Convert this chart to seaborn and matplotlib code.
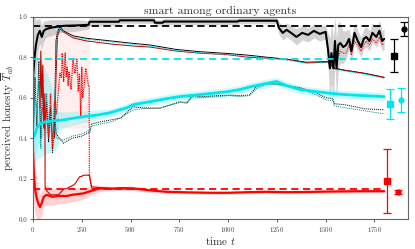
import numpy as np
import pandas as pd
import matplotlib
matplotlib.use("Agg")
import matplotlib.pyplot as plt
import seaborn as sns

# ---------------- data ----------------
# smart agent (black thick)
black_t = [0, 8, 15, 25, 35, 45, 55, 70, 90, 120, 160, 200, 250, 285, 290, 440, 445, 620, 625,
           665, 670, 1050, 1055, 1250, 1260, 1280, 1300, 1330, 1350, 1380, 1410, 1440, 1470, 1500,
           1512, 1522, 1530, 1540, 1548, 1556, 1565, 1575, 1590, 1605, 1620, 1632, 1648, 1665,
           1682, 1695, 1708, 1725, 1740, 1760, 1776, 1790, 1800]
black_v = [0.70, 0.80, 0.86, 0.91, 0.93, 0.90, 0.93, 0.94, 0.945, 0.95, 0.955, 0.956, 0.958, 0.96,
           0.975, 0.975, 0.982, 0.982, 0.97, 0.97, 0.976, 0.976, 0.98, 0.98, 0.945, 0.92, 0.935,
           0.915, 0.90, 0.92, 0.91, 0.93, 0.915, 0.925, 0.84, 0.745, 0.82, 0.745, 0.88, 0.745,
           0.86, 0.87, 0.85, 0.86, 0.89, 0.83, 0.92, 0.88, 0.85, 0.89, 0.90, 0.88, 0.92, 0.90,
           0.93, 0.88, 0.89]
black_err = [0.30, 0.20, 0.12, 0.08, 0.06, 0.06, 0.05, 0.04, 0.04, 0.035, 0.03, 0.03, 0.025, 0.02,
             0.02, 0.02, 0.015, 0.015, 0.015, 0.015, 0.015, 0.015, 0.015, 0.015, 0.03, 0.035, 0.035,
             0.035, 0.04, 0.035, 0.035, 0.035, 0.035, 0.035, 0.08, 0.15, 0.15, 0.15, 0.12, 0.15,
             0.12, 0.10, 0.08, 0.07, 0.05, 0.06, 0.05, 0.05, 0.05, 0.05, 0.05, 0.05, 0.05, 0.05,
             0.05, 0.05, 0.05]

# thin lines (honest agents' view)
thin_t = [110, 118, 125, 138, 155, 206, 275, 400, 513, 600, 735, 855, 1000, 1100, 1196, 1300,
          1400, 1510, 1545, 1600, 1700, 1800]
thin_black = [0.45, 0.88, 0.92, 0.95, 0.93, 0.905, 0.893, 0.88, 0.868, 0.86, 0.838, 0.827, 0.818,
              0.81, 0.80, 0.79, 0.775, 0.778, 0.745, 0.735, 0.72, 0.70]
thin_red = [0.40, 0.70, 0.90, 0.94, 0.925, 0.895, 0.88, 0.865, 0.855, 0.85, 0.83, 0.82, 0.812,
            0.80, 0.795, 0.79, 0.772, 0.775, 0.745, 0.735, 0.72, 0.70]

# cyan thick (ordinary agents)
cyan_t = [0, 10, 20, 36, 60, 100, 155, 250, 326, 394, 480, 513, 600, 684, 750, 855, 906, 1000,
          1059, 1120, 1196, 1247, 1300, 1366, 1450, 1537, 1600, 1700, 1800]
cyan_v = [0.40, 0.42, 0.45, 0.47, 0.48, 0.485, 0.49, 0.505, 0.514, 0.525, 0.55, 0.565, 0.58,
          0.595, 0.605, 0.615, 0.62, 0.63, 0.64, 0.655, 0.67, 0.68, 0.66, 0.64, 0.63, 0.62,
          0.615, 0.61, 0.605]
cyan_err = [0.15, 0.12, 0.10, 0.08, 0.06, 0.05, 0.04, 0.03, 0.025, 0.02, 0.02, 0.02, 0.02, 0.02,
            0.02, 0.02, 0.02, 0.02, 0.02, 0.02, 0.02, 0.02, 0.02, 0.02, 0.02, 0.02, 0.02, 0.02,
            0.02]

# dotted lines near the cyan one
dot_t = [0, 10, 20, 30, 40, 50, 60, 70, 80, 90, 100, 110, 120, 155, 200, 250, 292, 300, 343, 400,
         450, 513, 560, 650, 752, 790, 820, 855, 950, 1000, 1060, 1110, 1145, 1196, 1250, 1300,
         1366, 1450, 1500, 1537, 1545, 1600, 1700, 1800]
dot_a = [0.35, 0.70, 0.45, 0.78, 0.40, 0.65, 0.48, 0.58, 0.38, 0.55, 0.33, 0.50, 0.42, 0.375,
         0.40, 0.41, 0.43, 0.47, 0.48, 0.49, 0.50, 0.555, 0.55, 0.547, 0.58, 0.572, 0.613, 0.604,
         0.61, 0.612, 0.61, 0.613, 0.654, 0.671, 0.668, 0.66, 0.65, 0.625, 0.60, 0.595, 0.57,
         0.565, 0.545, 0.54]
dot_b = [0.40, 0.60, 0.55, 0.68, 0.35, 0.72, 0.44, 0.62, 0.45, 0.50, 0.38, 0.46, 0.40, 0.39,
         0.41, 0.42, 0.44, 0.46, 0.47, 0.48, 0.50, 0.54, 0.545, 0.55, 0.575, 0.58, 0.605, 0.60,
         0.605, 0.61, 0.605, 0.61, 0.645, 0.665, 0.665, 0.655, 0.645, 0.615, 0.59, 0.585, 0.56,
         0.55, 0.535, 0.52]

# red thick (dishonest agents)
red_t = [0, 5, 10, 20, 30, 36, 45, 55, 70, 100, 130, 172, 200, 258, 300, 343, 400, 450, 512, 600,
         684, 800, 906, 1000, 1100, 1196, 1300, 1400, 1500, 1600, 1700, 1800]
red_v = [0.33, 0.22, 0.15, 0.10, 0.07, 0.06, 0.08, 0.11, 0.12, 0.11, 0.115, 0.114, 0.12, 0.127,
         0.14, 0.152, 0.15, 0.153, 0.152, 0.142, 0.135, 0.132, 0.13, 0.13, 0.133, 0.135, 0.133,
         0.134, 0.136, 0.137, 0.138, 0.138]
red_err = [0.15, 0.15, 0.12, 0.10, 0.07, 0.06, 0.06, 0.05, 0.05, 0.04, 0.04, 0.035, 0.035, 0.03,
           0.02, 0.015, 0.01, 0.01, 0.01, 0.01, 0.008, 0.008, 0.008, 0.008, 0.008, 0.008, 0.008,
           0.008, 0.008, 0.008, 0.008, 0.008]

# red erratic dotted lines
redA_t = [36, 40, 45, 50, 55, 61, 62, 70, 80, 90, 100, 110, 120, 130, 140, 150, 160, 165, 172,
          180, 190, 200, 210, 220, 232, 240, 248, 255, 262, 270, 276, 284, 288, 289, 300, 350,
          450, 520]
redA_v = [0.55, 0.83, 0.60, 0.76, 0.45, 0.62, 0.16, 0.14, 0.13, 0.12, 0.12, 0.12, 0.12, 0.12,
          0.13, 0.14, 0.15, 0.15, 0.15, 0.155, 0.16, 0.165, 0.17, 0.18, 0.20, 0.21, 0.21, 0.215,
          0.217, 0.217, 0.217, 0.217, 0.217, 0.217, 0.16, 0.155, 0.15, 0.148]
redB_t = [50, 60, 70, 80, 90, 100, 110, 120, 138, 145, 150, 157, 165, 170, 175, 180, 185, 195,
          205, 215, 225, 232, 238, 245, 250, 255, 262, 270, 278, 284, 288, 289, 300, 400]
redB_v = [0.55, 0.45, 0.54, 0.40, 0.62, 0.35, 0.58, 0.52, 0.72, 0.70, 0.82, 0.68, 0.82, 0.70,
          0.75, 0.66, 0.73, 0.64, 0.79, 0.72, 0.79, 0.63, 0.72, 0.50, 0.75, 0.60, 0.66, 0.745,
          0.70, 0.66, 0.66, 0.217, 0.15, 0.15]
redC_t = [1540, 1548, 1556, 1565, 1575, 1590, 1605, 1620, 1632, 1648, 1665, 1682, 1695, 1708,
          1725, 1740, 1760, 1776, 1790, 1800]
redC_v = [0.745, 0.80, 0.76, 0.80, 0.83, 0.82, 0.82, 0.86, 0.81, 0.88, 0.86, 0.83, 0.86, 0.88,
          0.86, 0.89, 0.87, 0.90, 0.86, 0.87]

# faint spread regions (early transient)
pink_t = [30, 60, 150, 290]
pink_lo = [0.40, 0.42, 0.45, 0.45]
pink_hi = [0.90, 0.95, 0.96, 0.96]
cyspread_t = [0, 30, 60, 100, 130]
cyspread_lo = [0.28, 0.30, 0.32, 0.33, 0.36]
cyspread_hi = [0.80, 0.80, 0.75, 0.65, 0.55]

# reference levels (dashed)
level_v = [0.956, 0.791, 0.147]
level_colors = ["black", "#00e5ee", "red"]
level_end = 1800

# summary points with error bars
sum_t = [1849, 1904, 1832, 1887, 1815, 1870]
sum_v = [0.807, 0.94, 0.567, 0.588, 0.186, 0.135]
sum_e = [0.082, 0.035, 0.074, 0.061, 0.158, 0.01]
sum_marker = ["s", "o", "s", "o", "s", "o"]
sum_color = ["black", "black", "#00e5ee", "#00e5ee", "red", "red"]

# ---------------- plot ----------------
sns.set_style("ticks")
plt.rcParams["font.family"] = ["cmr10", "DejaVu Serif"]
plt.rcParams["mathtext.fontset"] = "cm"
plt.rcParams["axes.formatter.use_mathtext"] = True

fig = plt.figure(figsize=(4.15, 2.49), dpi=100)
ax = fig.add_axes([0.0795, 0.12, 0.9035, 0.813])

CY = "#00e5ee"

# faint background regions
ax.fill_between(pink_t, pink_lo, pink_hi, color="#ffd0d0", alpha=0.35, lw=0)
ax.fill_between(cyspread_t, cyspread_lo, cyspread_hi, color=CY, alpha=0.22, lw=0)

# bands
bt = np.array(black_t); bv = np.array(black_v); be = np.array(black_err)
ax.fill_between(bt, bv - be, np.minimum(bv + be, 1.0), color="#b0b0b0", alpha=0.55, lw=0)
ct = np.array(cyan_t); cv = np.array(cyan_v); ce = np.array(cyan_err)
ax.fill_between(ct, cv - ce, cv + ce, color=CY, alpha=0.2, lw=0)
rt = np.array(red_t); rv = np.array(red_v); re_ = np.array(red_err)
ax.fill_between(rt, np.maximum(rv - re_, 0), rv + re_, color="#ff9999", alpha=0.45, lw=0)

# thin lines
sns.lineplot(x=thin_t, y=thin_black, ax=ax, color="black", lw=0.7, sort=False, estimator=None)
sns.lineplot(x=thin_t, y=thin_red, ax=ax, color="#b00000", lw=0.7, sort=False, estimator=None)
sns.lineplot(x=thin_t, y=np.array(thin_black) - 0.005, ax=ax, color=CY, lw=0.8,
             linestyle=(0, (1, 1)), sort=False, estimator=None)

# dotted lines near cyan
sns.lineplot(x=dot_t, y=dot_a, ax=ax, color="black", lw=0.7, linestyle=(0, (1, 1)),
             sort=False, estimator=None)
sns.lineplot(x=dot_t, y=dot_b, ax=ax, color="#008b8b", lw=0.7, linestyle=(0, (1, 1)),
             sort=False, estimator=None)

# red erratic dotted lines
sns.lineplot(x=redA_t, y=redA_v, ax=ax, color="#d00000", lw=0.8, sort=False, estimator=None)
sns.lineplot(x=redB_t, y=redB_v, ax=ax, color="red", lw=0.9, linestyle=(0, (1, 0.8)),
             sort=False, estimator=None)
sns.lineplot(x=redC_t, y=redC_v, ax=ax, color="red", lw=0.8, linestyle=(0, (1, 1)),
             sort=False, estimator=None)

# thick main lines
sns.lineplot(x=cyan_t, y=cyan_v, ax=ax, color=CY, lw=2.0, sort=False, estimator=None)
sns.lineplot(x=red_t, y=red_v, ax=ax, color="red", lw=1.6, sort=False, estimator=None)
sns.lineplot(x=black_t, y=black_v, ax=ax, color="black", lw=1.5, sort=False, estimator=None)

# dashed reference levels
for v, c in zip(level_v, level_colors):
    ax.hlines(v, 0, level_end, colors=c, linestyles=(0, (4, 2.5)), lw=1.3)

# summary points
for t, v, e, m, c in zip(sum_t, sum_v, sum_e, sum_marker, sum_color):
    ax.errorbar(t, v, yerr=e, fmt=m, color=c, ms=4 if m == "s" else 3.5, capsize=3,
                elinewidth=0.9, capthick=0.9)

ax.set_xlim(0, 1922)
ax.set_ylim(0, 1.0)
ax.set_xticks([0, 250, 500, 750, 1000, 1250, 1500, 1750])
ax.set_yticks([0.0, 0.2, 0.4, 0.6, 0.8, 1.0])
ax.set_yticklabels(["0.0", "0.2", "0.4", "0.6", "0.8", "1.0"])
ax.tick_params(labelsize=5, length=2, width=0.6, pad=2, colors="#444444")
for s in ax.spines.values():
    s.set_color("#666666")
    s.set_linewidth(0.8)
ax.set_title("smart among ordinary agents", fontsize=8.5, pad=2, color="#333333")
ax.set_xlabel("time $t$", fontsize=8, labelpad=1, color="#333333")
ax.set_ylabel(r"perceived honesty $\overline{T}_{ab}$", fontsize=8, labelpad=2, color="#333333")

fig.savefig("out.png", dpi=100)
